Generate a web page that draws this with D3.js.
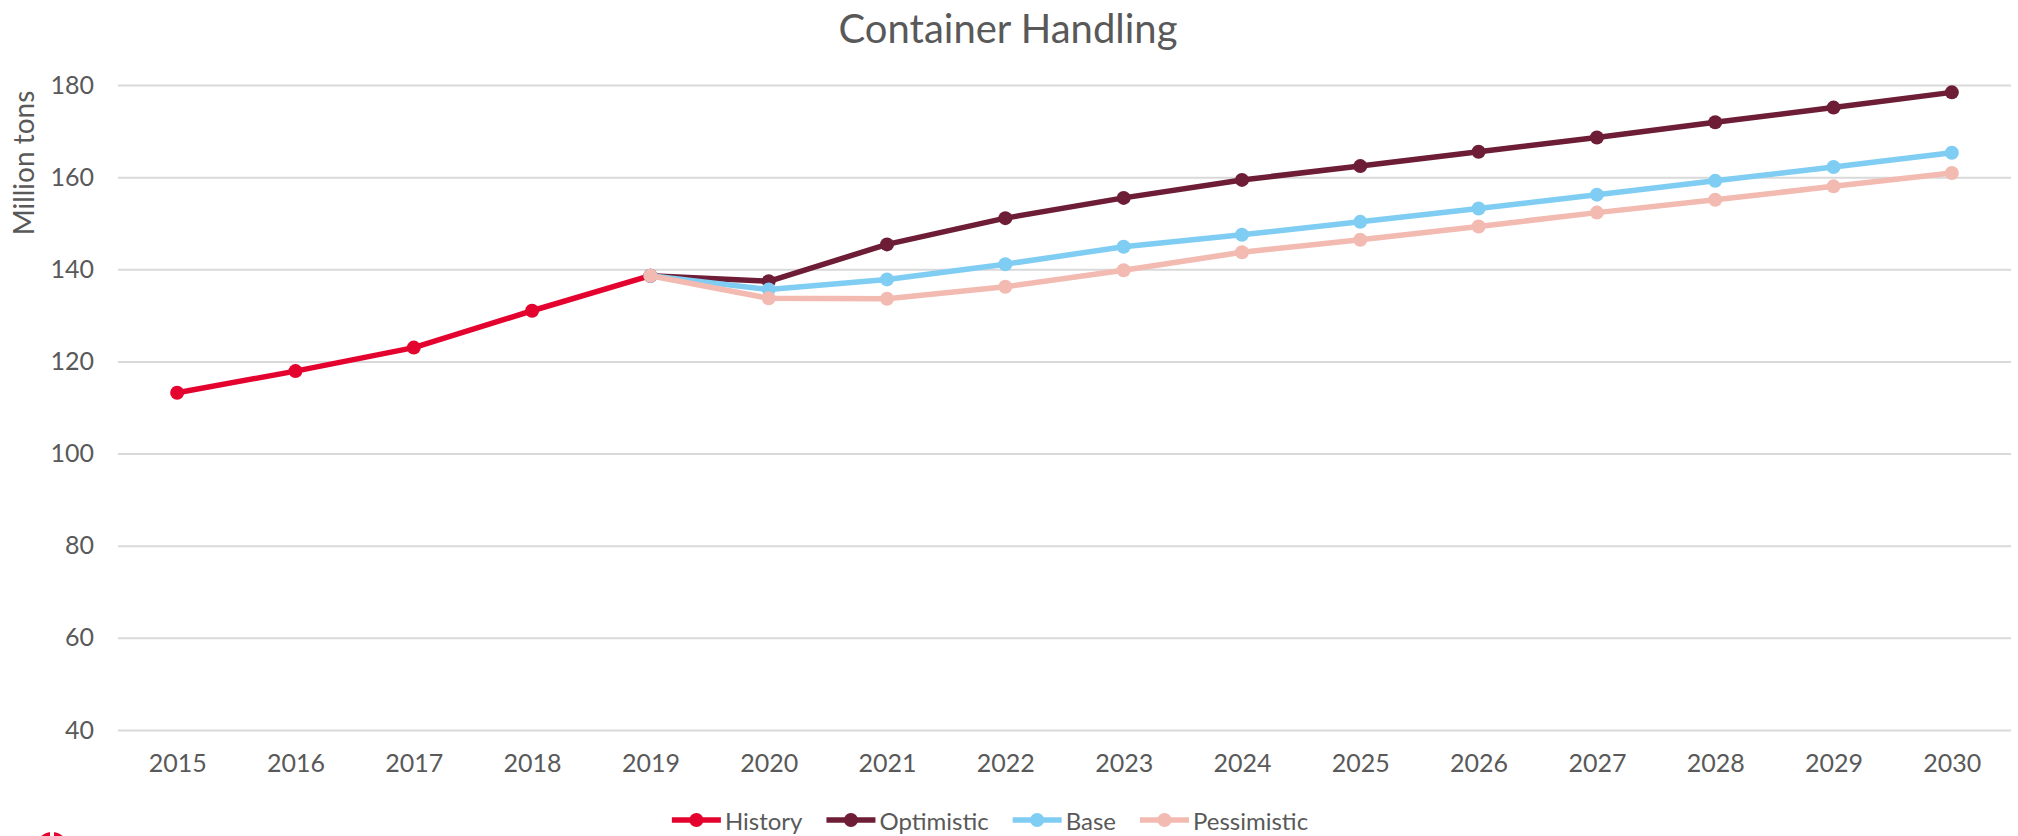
<!DOCTYPE html>
<html>
<head>
<meta charset="utf-8">
<script src="https://cdn.jsdelivr.net/npm/d3@7"></script>
<style>
  body { margin: 0; background: #fff; }
  text { font-family: Lato, "Open Sans", sans-serif; fill: #595959; }
</style>
</head>
<body>
<svg id="chart" width="2018" height="836"></svg>
<script>
// data
var years = ["2015","2016","2017","2018","2019","2020","2021","2022","2023","2024","2025","2026","2027","2028","2029","2030"];
var historyVals = [113.2, 117.9, 123.0, 131.0, 138.6, null, null, null, null, null, null, null, null, null, null, null];
var optimisticVals = [null, null, null, null, 138.6, 137.4, 145.4, 151.1, 155.5, 159.4, 162.4, 165.5, 168.6, 171.9, 175.1, 178.4];
var baseVals = [null, null, null, null, 138.6, 135.6, 137.8, 141.1, 144.9, 147.5, 150.3, 153.2, 156.2, 159.2, 162.2, 165.3];
var pessimisticVals = [null, null, null, null, 138.6, 133.7, 133.6, 136.2, 139.8, 143.7, 146.4, 149.3, 152.3, 155.1, 158.0, 160.9];
var yTicks = [40, 60, 80, 100, 120, 140, 160, 180];
var seriesNames = ["History", "Optimistic", "Base", "Pessimistic"];
var seriesColors = ["#e4032e", "#6d1d36", "#7fcdf3", "#f2bab0"];

var svg = d3.select("#chart");
var series = [historyVals, optimisticVals, baseVals, pessimisticVals];

var x = d3.scalePoint()
  .domain(years)
  .range([118, 2011])
  .padding(0.5);

var y = d3.scaleLinear()
  .domain([40, 180])
  .range([730, 85]);

// title
svg.append("text")
  .attr("x", 1008)
  .attr("y", 28)
  .attr("text-anchor", "middle")
  .attr("dominant-baseline", "central")
  .style("font-size", "40px")
  .text("Container Handling");

// y axis title
svg.append("text")
  .attr("transform", "translate(23,163) rotate(-90)")
  .attr("text-anchor", "middle")
  .attr("dominant-baseline", "central")
  .style("font-size", "28px")
  .text("Million tons");

// gridlines
var yAxis = d3.axisLeft(y)
  .tickValues(yTicks)
  .tickSize(-(2011 - 118))
  .tickPadding(24);

var gy = svg.append("g")
  .attr("transform", "translate(118,0)")
  .call(yAxis);
gy.select(".domain").remove();
gy.selectAll(".tick line")
  .attr("stroke", "#d9d9d9")
  .attr("stroke-width", 2);
gy.selectAll(".tick text")
  .style("font-size", "25px")
  .style("font-family", "Lato, sans-serif")
  .attr("fill", "#595959");

// x axis labels
var xAxis = d3.axisBottom(x).tickSize(0).tickPadding(24);
var gx = svg.append("g")
  .attr("transform", "translate(0,730)")
  .call(xAxis);
gx.select(".domain").remove();
gx.selectAll(".tick text")
  .style("font-size", "25px")
  .style("font-family", "Lato, sans-serif")
  .attr("fill", "#595959");

// lines and markers
var line = d3.line()
  .defined(function(d){ return d != null; })
  .x(function(d, i){ return x(years[i]); })
  .y(function(d){ return y(d); });

series.forEach(function(vals, s){
  svg.append("path")
    .datum(vals)
    .attr("fill", "none")
    .attr("stroke", seriesColors[s])
    .attr("stroke-width", 5.5)
    .attr("stroke-linejoin", "round")
    .attr("d", line);
  svg.selectAll(".pt" + s)
    .data(vals.map(function(v, i){ return {v: v, i: i}; }).filter(function(d){ return d.v != null; }))
    .enter().append("circle")
    .attr("class", "pt" + s)
    .attr("cx", function(d){ return x(years[d.i]); })
    .attr("cy", function(d){ return y(d.v); })
    .attr("r", 7)
    .attr("fill", seriesColors[s]);
});

// legend
var legend = svg.append("g");
var lx = 0;
seriesNames.forEach(function(name, s){
  var item = legend.append("g").attr("transform", "translate(" + lx + ",0)");
  item.append("line")
    .attr("x1", 0).attr("x2", 49)
    .attr("y1", 0).attr("y2", 0)
    .attr("stroke", seriesColors[s])
    .attr("stroke-width", 5.5);
  item.append("circle")
    .attr("cx", 24.5).attr("cy", 0).attr("r", 7)
    .attr("fill", seriesColors[s]);
  var t = item.append("text")
    .attr("x", 53)
    .attr("y", 0)
    .attr("dominant-baseline", "central")
    .style("font-size", "24px")
    .text(name);
  lx += 53 + t.node().getComputedTextLength() + 24;
});
var legendWidth = lx - 24;
legend.attr("transform", "translate(" + (990 - legendWidth / 2) + ",820)");

// logo fragment at bottom left
svg.append("circle")
  .attr("cx", 52)
  .attr("cy", 848)
  .attr("r", 16)
  .attr("fill", "#e4032e");
svg.append("rect")
  .attr("x", 50)
  .attr("y", 828)
  .attr("width", 4)
  .attr("height", 10)
  .attr("fill", "#fff");
</script>
</body>
</html>
